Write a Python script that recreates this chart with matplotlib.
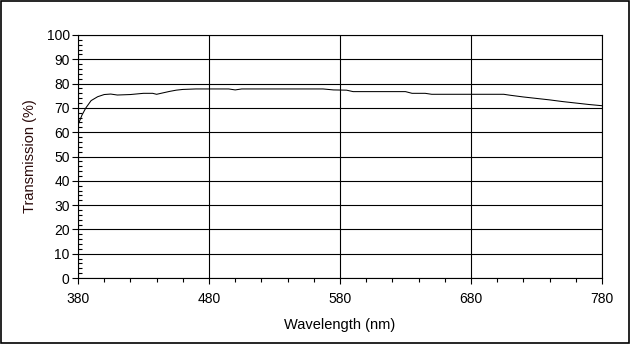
import matplotlib
matplotlib.use('Agg')
import matplotlib.pyplot as plt
from matplotlib.patches import Rectangle
from matplotlib.ticker import MultipleLocator

plt.rcParams['font.family'] = 'Liberation Sans'

# Transmission spectrum
wavelength = [380, 383, 386, 390, 395, 400, 405, 410, 420, 430, 437, 440, 445,
              450, 455, 460, 470, 480, 490, 495, 500, 505, 510, 520, 530, 540,
              550, 560, 567, 575, 585, 590, 600, 610, 620, 630, 635, 645, 650,
              660, 670, 680, 690, 700, 705, 710, 720, 730, 740, 750, 760, 770, 780]
transmission = [63.0, 67.0, 70.0, 73.0, 74.6, 75.5, 75.7, 75.3, 75.5, 76.0, 76.0, 75.6, 76.2,
                76.8, 77.3, 77.6, 77.8, 77.8, 77.8, 77.8, 77.4, 77.8, 77.8, 77.8, 77.8, 77.8,
                77.8, 77.8, 77.8, 77.4, 77.3, 76.7, 76.7, 76.7, 76.7, 76.7, 76.0, 76.0, 75.6,
                75.6, 75.6, 75.6, 75.6, 75.6, 75.6, 75.2, 74.5, 73.9, 73.3, 72.6, 72.0, 71.4, 70.9]

x_ticks = [380, 480, 580, 680, 780]
y_ticks = list(range(0, 101, 10))

fig = plt.figure(figsize=(6.3, 3.44), dpi=100)
fig.patch.set_facecolor('white')
ax = fig.add_axes([78 / 630, 1 - 278 / 344, 524 / 630, 243 / 344])

ax.plot(wavelength, transmission, color='black', linewidth=0.75)

ax.set_xlim(380, 780)
ax.set_ylim(0, 100)
ax.set_xticks(x_ticks)
ax.set_yticks(y_ticks)
ax.xaxis.set_minor_locator(MultipleLocator(20))
ax.yaxis.set_minor_locator(MultipleLocator(2))
ax.grid(True, which='major', color='black', linewidth=0.8)
ax.set_axisbelow(True)

ax.tick_params(axis='both', which='major', labelsize=10, colors='black',
               length=4, width=0.8, direction='out')
ax.tick_params(axis='x', which='minor', length=3, width=0.8, direction='out')
ax.tick_params(axis='y', which='minor', length=3, width=0.8, direction='in')
ax.tick_params(axis='x', which='major', pad=6)
ax.tick_params(axis='y', which='major', pad=2)

for s in ax.spines.values():
    s.set_color('black')
    s.set_linewidth(0.8)

ax.set_xlabel('Wavelength (nm)', fontsize=10.5, labelpad=9)
ax.set_ylabel('Transmission (%)', fontsize=10.5, labelpad=7, color='#2a0a0a')

# outer frame around the whole chart
fig.patches.append(Rectangle((0.001, 0.002), 0.997, 0.995, transform=fig.transFigure,
                             fill=False, edgecolor='black', linewidth=1.2))

fig.savefig('out.png', dpi=100, facecolor='white')
